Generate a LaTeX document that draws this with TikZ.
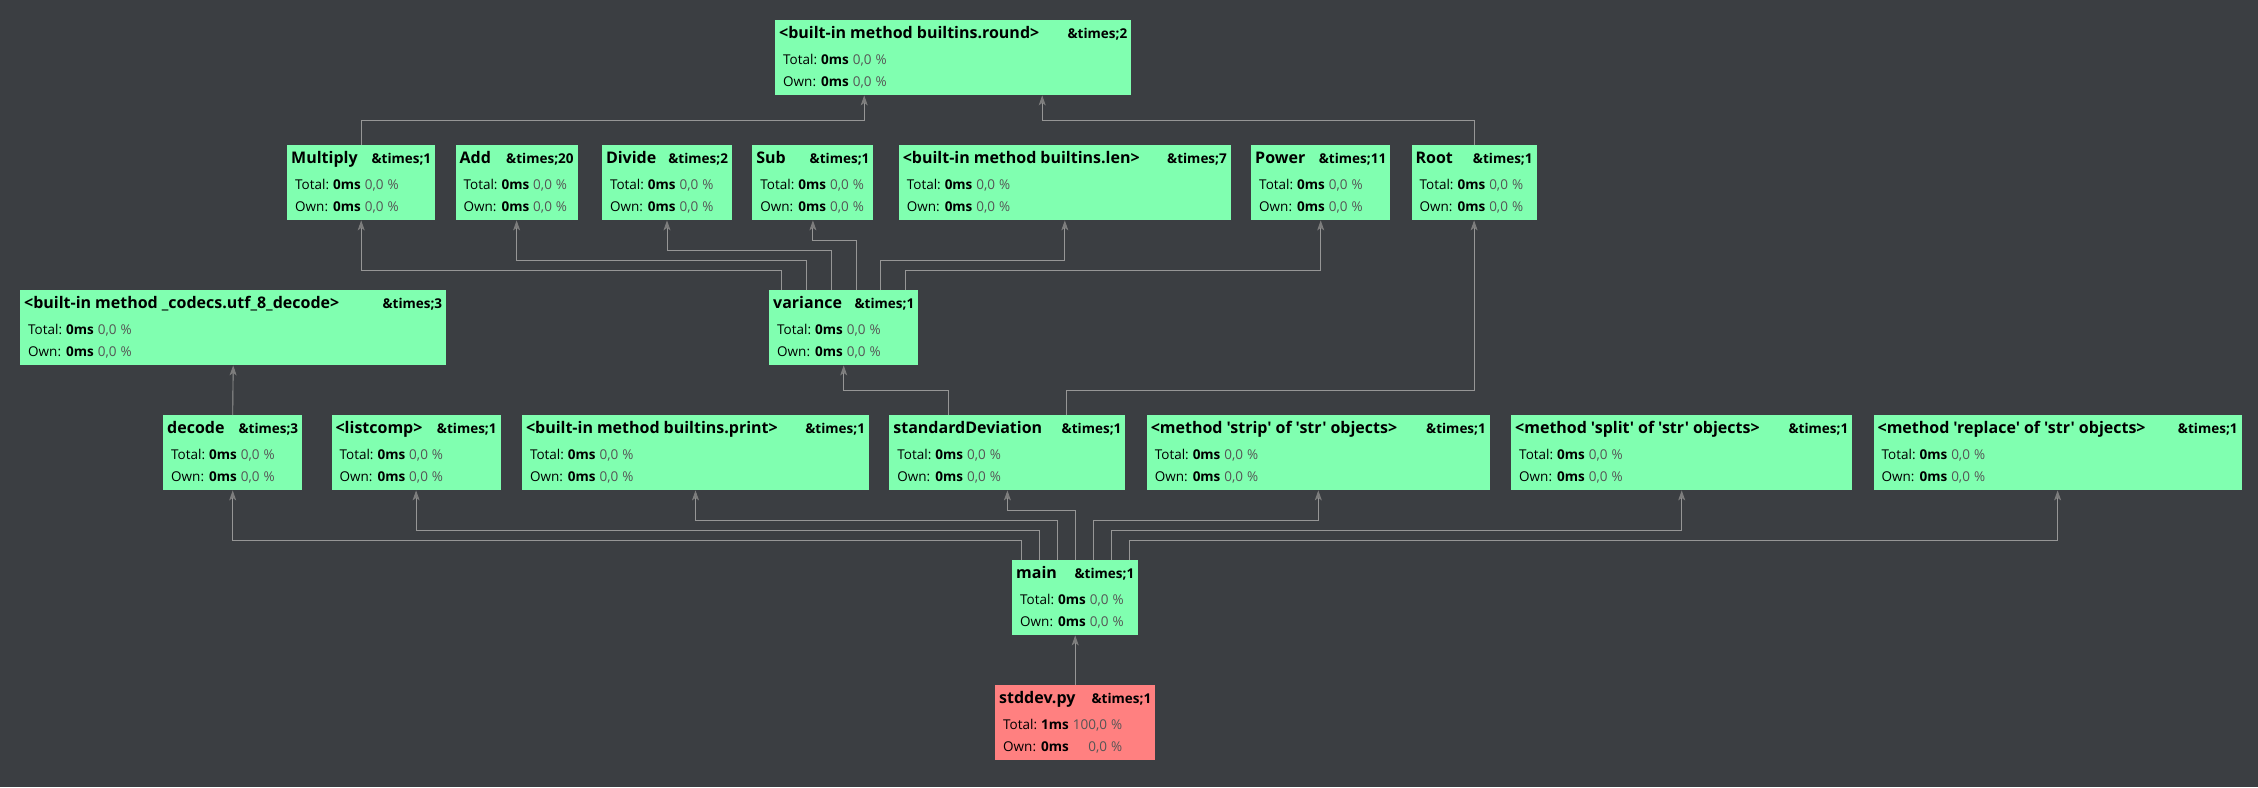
\documentclass[tikz,border=0pt]{standalone}
\usepackage{fontspec}
\setmainfont{Open Sans}[Ligatures=TeXOff]
\usetikzlibrary{positioning, arrows.meta, calc}

\definecolor{bggray}{RGB}{59,62,66}
\definecolor{fngreen}{RGB}{128,255,176}
\definecolor{fnred}{RGB}{255,128,128}
\definecolor{linegray}{RGB}{150,150,150}
\definecolor{tipgray}{RGB}{125,125,125}
\definecolor{pctgray}{RGB}{85,85,85}

\newcommand\fntitle[2]{\makebox[\hsize][l]{\rule{0pt}{18pt}{\fontsize{16}{18}\selectfont\bfseries #1}\hfill{\fontsize{13.5}{14}\selectfont\bfseries \&times;#2}}}
\newcommand\fnstats[4]{\hspace*{4pt}{\fontsize{13.5}{22}\selectfont\begin{tabular}[t]{@{}l@{\ }l@{\ }r@{}}Total: & \textbf{#1} & \textcolor{pctgray}{#2}\\ Own: & \textbf{#3} & \textcolor{pctgray}{#4}\rule[-9pt]{0pt}{9pt}\end{tabular}}}
\def\zerostats{\fnstats{0ms}{0,0 \%}{0ms}{0,0 \%}}

\begin{document}
\begin{tikzpicture}[x=1pt, y=-1pt,
    fn/.style={rectangle, fill=fngreen, inner xsep=4pt, inner ysep=0pt, text width=#1pt, align=left, font=\fontsize{12}{26}\selectfont},
    fnscript/.style={fn=#1, fill=fnred},
    call/.style={draw=linegray, line width=0.9pt, -{Stealth[length=10pt, width=7pt, inset=2.5pt, color=tipgray]}},
]
\fill[bggray] (0,0) rectangle (2258,787);

% Top
\node[fn=348, anchor=north west] (round) at (775,20) {\fntitle{<built-in method builtins.round>}{2}\\ \zerostats};

% Row 1
\node[fn=140, anchor=north west] (multiply) at (287,145) {\fntitle{Multiply}{1}\\ \zerostats};
\node[fn=114, right=20pt of multiply] (add) {\fntitle{Add}{20}\\ \zerostats};
\node[fn=122, right=24pt of add] (divide) {\fntitle{Divide}{2}\\ \zerostats};
\node[fn=113, right=20pt of divide] (sub) {\fntitle{Sub}{1}\\ \zerostats};
\node[fn=324, right=25pt of sub] (len) {\fntitle{<built-in method builtins.len>}{7}\\ \zerostats};
\node[fn=131, right=20pt of len] (power) {\fntitle{Power}{11}\\ \zerostats};
\node[fn=117, right=21pt of power] (rootop) {\fntitle{Root}{1}\\ \zerostats};

% Row 2
\node[fn=418, anchor=north west] (utf8decode) at (20,290) {\fntitle{<built-in method \_codecs.utf\_8\_decode>}{3}\\ \zerostats};
\node[fn=141, anchor=north west] (variance) at (769,290) {\fntitle{variance}{1}\\ \zerostats};

% Row 3
\node[fn=131, anchor=north west] (decode) at (163,415) {\fntitle{decode}{3}\\ \zerostats};
\node[fn=161, right=29pt of decode] (listcomp) {\fntitle{<listcomp>}{1}\\ \zerostats};
\node[fn=339, right=21pt of listcomp] (print) {\fntitle{<built-in method builtins.print>}{1}\\ \zerostats};
\node[fn=228, right=20pt of print] (stddevfn) {\fntitle{standardDeviation}{1}\\ \zerostats};
\node[fn=335, right=21pt of stddevfn] (strip) {\fntitle{<method 'strip' of 'str' objects>}{1}\\ \zerostats};
\node[fn=333, right=21pt of strip] (split) {\fntitle{<method 'split' of 'str' objects>}{1}\\ \zerostats};
\node[fn=360, right=21pt of split] (replace) {\fntitle{<method 'replace' of 'str' objects>}{1}\\ \zerostats};

% Entry
\node[fn=118, anchor=north west] (main) at (1012,560) {\fntitle{main}{1}\\ \zerostats};
\node[fnscript=152, anchor=north west] (stddevpy) at (995,685) {\fntitle{stddev.py}{1}\\ \fnstats{1ms}{100,0 \%}{0ms}{0,0 \%}};

% Calls into round
\draw[call] (multiply.north) -- ++(0,-25) -| ([xshift=-89pt]round.south);
\draw[call] (rootop.north) -- ++(0,-25) -| ([xshift=89pt]round.south);

% Calls from variance
\draw[call] ([xshift=-62pt]variance.north) -- ++(0,-20) -| (multiply.south);
\draw[call] ([xshift=-37pt]variance.north) -- ++(0,-30) -| (add.south);
\draw[call] ([xshift=-12pt]variance.north) -- ++(0,-40) -| (divide.south);
\draw[call] ([xshift=13pt]variance.north) -- ++(0,-50) -| (sub.south);
\draw[call] ([xshift=37pt]variance.north) -- ++(0,-30) -| (len.south);
\draw[call] ([xshift=62pt]variance.north) -- ++(0,-20) -| (power.south);

% decode
\draw[call] (decode.north) -- (utf8decode.south);

% Calls from standardDeviation
\draw[call] ([xshift=-59pt]stddevfn.north) -- ++(0,-25) -| (variance.south);
\draw[call] ([xshift=59pt]stddevfn.north) -- ++(0,-25) -| (rootop.south);

% Calls from main
\draw[call] ([xshift=-54pt]main.north) -- ++(0,-20) -| (decode.south);
\draw[call] ([xshift=-36pt]main.north) -- ++(0,-30) -| (listcomp.south);
\draw[call] ([xshift=-18pt]main.north) -- ++(0,-40) -| (print.south);
\draw[call] (main.north) -- ++(0,-50) -| (stddevfn.south);
\draw[call] ([xshift=18pt]main.north) -- ++(0,-40) -| (strip.south);
\draw[call] ([xshift=36pt]main.north) -- ++(0,-30) -| (split.south);
\draw[call] ([xshift=54pt]main.north) -- ++(0,-20) -| (replace.south);

% Script
\draw[call] (stddevpy.north) -- (main.south);

\end{tikzpicture}
\end{document}
